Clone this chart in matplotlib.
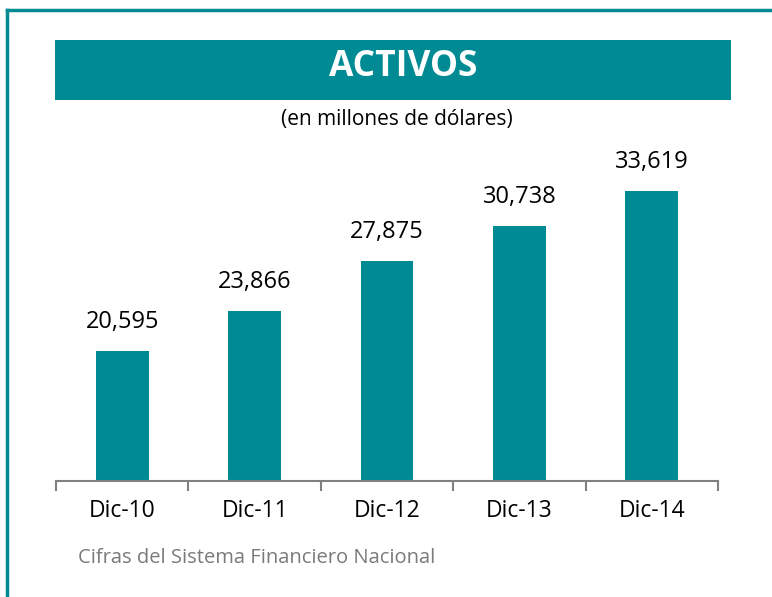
import matplotlib.pyplot as plt
from matplotlib.patches import Rectangle
from matplotlib.lines import Line2D

plt.rcParams["font.family"] = ["Open Sans", "DejaVu Sans"]

# data
categories = ["Dic-10", "Dic-11", "Dic-12", "Dic-13", "Dic-14"]
activos = [20595, 23866, 27875, 30738, 33619]
title = "ACTIVOS"
subtitle = "(en millones de dólares)"
footer = "Cifras del Sistema Financiero Nacional"

TEAL = "#008b94"
W, H = 772, 597

fig = plt.figure(figsize=(W / 100, H / 100), dpi=100)
fig.patch.set_facecolor("white")

# outer frame (top and left teal lines)
fig.add_artist(Line2D([7 / W, 1], [1 - 10 / H, 1 - 10 / H], color=TEAL, lw=2.5,
                      transform=fig.transFigure))
fig.add_artist(Line2D([7 / W, 7 / W], [0, 1 - 10 / H], color=TEAL, lw=2.5,
                      transform=fig.transFigure))

# title banner
fig.add_artist(Rectangle((55 / W, 1 - 100 / H), (731 - 55) / W, 60 / H,
                         facecolor=TEAL, edgecolor="none", transform=fig.transFigure))
fig.text(403 / W, 1 - 67 / H, title, color="white", fontsize=25.5, fontweight="bold",
         ha="center", va="center")
fig.text(397 / W, 1 - 120 / H, subtitle, color="black", fontsize=15,
         ha="center", va="center")

# bar chart area
left, right, bottom, top = 56, 718, 481, 140
ax = fig.add_axes([left / W, 1 - bottom / H, (right - left) / W, (bottom - top) / H])
x = range(len(categories))
bars = ax.bar(x, activos, width=0.4, color=TEAL, bottom=0)
ax.set_ylim(10000, 37746)
ax.set_xlim(-0.5, len(categories) - 0.5)

for rect, v in zip(bars, activos):
    ax.annotate(f"{v:,}", (rect.get_x() + rect.get_width() / 2, v),
                xytext=(0, 16.5), textcoords="offset points",
                ha="center", va="baseline", fontsize=17)

for s in ["top", "right", "left"]:
    ax.spines[s].set_visible(False)
ax.spines["bottom"].set_color("#808080")
ax.spines["bottom"].set_linewidth(1.5)
ax.set_yticks([])
ax.set_xticks([i - 0.5 for i in range(len(categories) + 1)], minor=True)
ax.set_xticks(list(x))
ax.set_xticklabels(categories, fontsize=16.5)
ax.tick_params(axis="x", which="major", length=0, pad=13)
ax.tick_params(axis="x", which="minor", length=7, color="#808080", width=1.5)
ax.set_facecolor("none")

fig.text(78 / W, 1 - 558 / H, footer, color="#7a7a7a", fontsize=14.5,
         ha="left", va="center")

fig.savefig("out.png", dpi=100)
